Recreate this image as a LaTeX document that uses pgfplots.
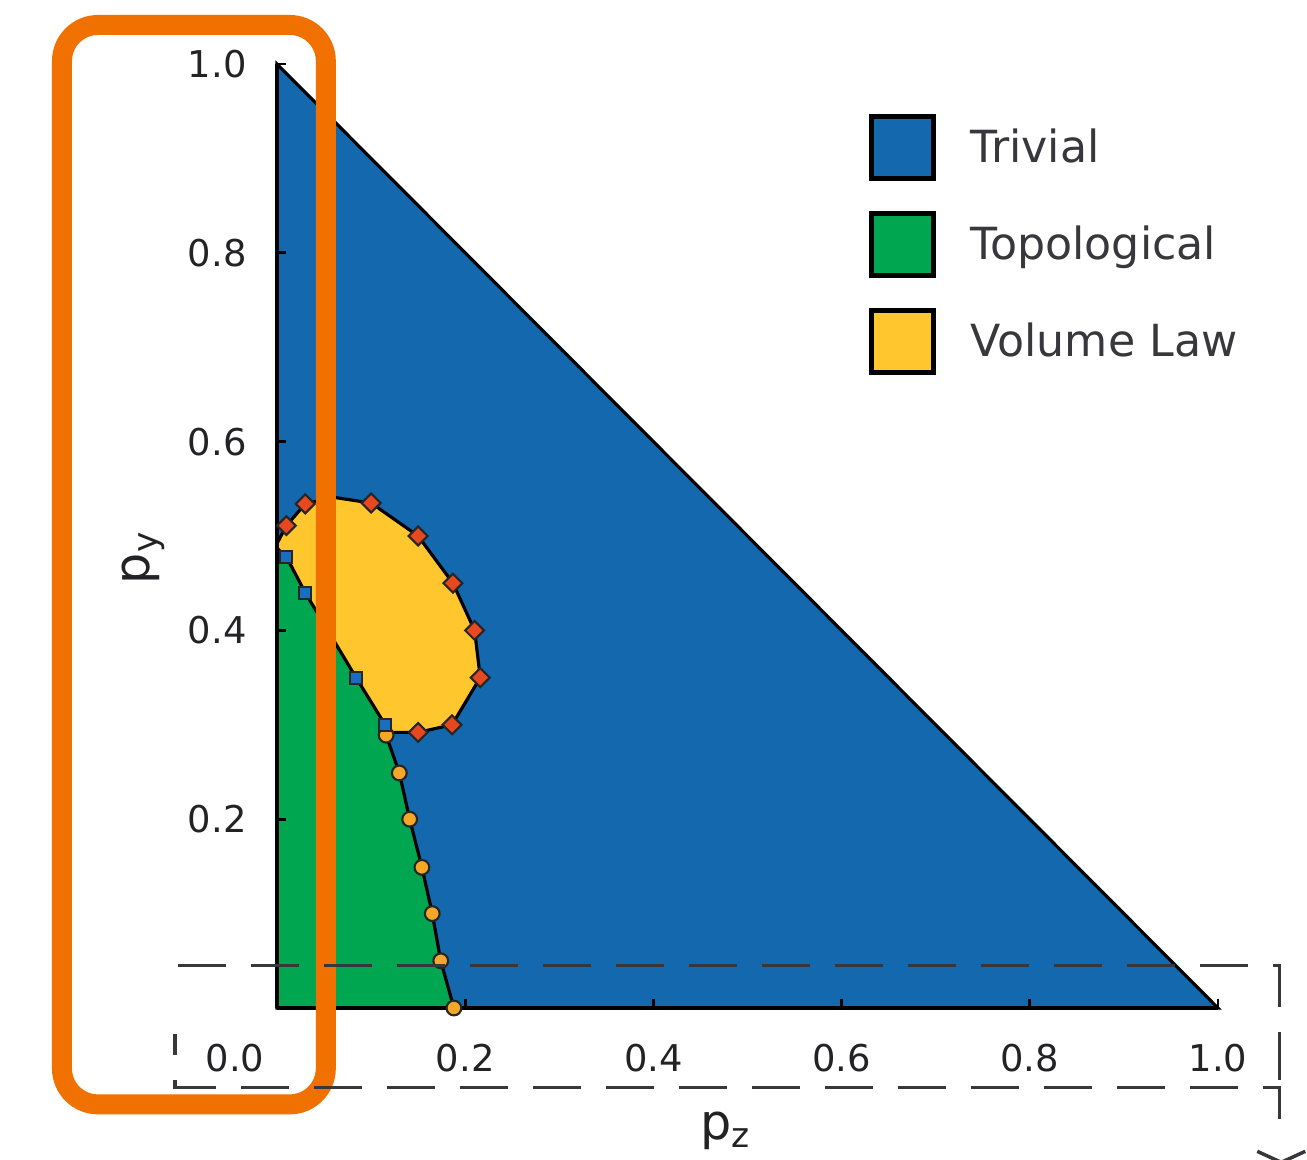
\documentclass[border=0pt]{standalone}
\usepackage{fontspec}
\setmainfont{DejaVu Sans}
\usepackage{pgfplots}
\pgfplotsset{compat=1.18}
\definecolor{tblue}{RGB}{19,104,174}
\definecolor{tgreen}{RGB}{0,166,80}
\definecolor{tyellow}{RGB}{255,198,46}
\definecolor{dred}{RGB}{232,72,32}
\definecolor{corange}{RGB}{245,168,40}
\definecolor{sblue}{RGB}{25,110,190}
\definecolor{annot}{RGB}{240,113,0}
\definecolor{dgray}{RGB}{55,55,60}
\definecolor{tgray}{RGB}{35,35,38}
\begin{document}
\begin{tikzpicture}
\useasboundingbox (0,0) rectangle (13.07,11.59);
\begin{axis}[
  at={(2.77cm,1.51cm)}, anchor=south west,
  scale only axis, width=9.41cm, height=9.44cm,
  xmin=0, xmax=1, ymin=0, ymax=1,
  clip=false,
  axis on top,
  axis lines=left,
  axis line style={-, line width=1.1pt, black},
  tick align=inside,
  major tick length=0.09cm,
  tick style={black, line width=0.8pt},
  xtick={0.2,0.4,0.6,0.8,1.0},
  xticklabels={0.2,0.4,0.6,0.8,1.0},
  extra x ticks={0},
  extra x tick labels={0.0},
  extra x tick style={major tick length=0pt, xticklabel style={xshift=-0.42cm}},
  ytick={0.2,0.4,0.6,0.8,1.0},
  yticklabels={0.2,0.4,0.6,0.8,1.0},
  xticklabel style={font=\fontsize{10.5}{12}\selectfont, text=tgray, yshift=-0.24cm},
  yticklabel style={font=\fontsize{10.5}{12}\selectfont, text=tgray, xshift=-0.18cm},
  xlabel={p\textsubscript{z}},
  ylabel={p\textsubscript{y}},
  xlabel style={at={(axis description cs:0.437,-0.1398)}, anchor=base west, font=\fontsize{14}{16}\selectfont, text=tgray},
  ylabel style={at={(axis description cs:-0.135,0.436)}, anchor=base west, font=\fontsize{14}{16}\selectfont, text=tgray},
  legend style={at={(axis cs:0.628,0.948)}, anchor=north west, draw=none, fill=none, inner sep=0pt,
    font=\fontsize{12.6}{15}\selectfont, text=dgray, row sep=0.30cm, cells={anchor=west},
    /tikz/every odd column/.append style={column sep=0.28cm}},
  legend image code/.code={\draw[#1, line width=1.4pt] (0cm,-0.30cm) rectangle (0.62cm,0.32cm);},
]
\addlegendimage{fill=tblue, draw=black}
\addlegendentry{Trivial}
\addlegendimage{fill=tgreen, draw=black}
\addlegendentry{Topological}
\addlegendimage{fill=tyellow, draw=black}
\addlegendentry{Volume Law}

% Trivial region (whole triangle)
\addplot[forget plot, fill=tblue, draw=black, line width=0.9pt] coordinates {(0,0) (1,0) (0,1)} -- cycle;

% Topological region
\addplot[forget plot, fill=tgreen, draw=none] coordinates {
(0,0) (0.188,0) (0.174,0.05) (0.165,0.10) (0.154,0.149) (0.141,0.20) (0.130,0.249) (0.116,0.289)
(0.115,0.30) (0.084,0.35) (0.03,0.44) (0.01,0.478) (0,0.487)} -- cycle;

% Volume law region
\addplot[forget plot, fill=tyellow, draw=black, line width=0.9pt] coordinates {
(0,0.492) (0.01,0.511) (0.03,0.534) (0.06,0.541) (0.10,0.535) (0.15,0.50) (0.187,0.45)
(0.21,0.40) (0.216,0.35) (0.186,0.30) (0.15,0.292) (0.12,0.292) (0.115,0.30) (0.084,0.35)
(0.03,0.44) (0.01,0.478) (0,0.487)} -- cycle;

% Topological / trivial boundary
\addplot[forget plot, black, line width=0.9pt, mark=*, mark size=2.1pt,
  mark options={fill=corange, draw=black!85, line width=0.6pt}] coordinates {
(0.116,0.289) (0.130,0.249) (0.141,0.20) (0.154,0.149) (0.165,0.10) (0.174,0.05) (0.188,0)};

% Volume law / trivial boundary points
\addplot[forget plot, only marks, mark=square*, mark size=1.9pt,
  mark options={rotate=45, fill=dred, draw=black!85, line width=0.6pt}] coordinates {
(0.01,0.511) (0.03,0.534) (0.10,0.535) (0.15,0.50) (0.187,0.45) (0.21,0.40) (0.216,0.35) (0.186,0.30) (0.15,0.292)};

% Volume law / topological boundary points
\addplot[forget plot, only marks, mark=square*, mark size=1.7pt,
  mark options={fill=sblue, draw=black!85, line width=0.6pt}] coordinates {
(0.01,0.478) (0.03,0.44) (0.084,0.35) (0.115,0.30)};
\end{axis}

\begin{scope}[yshift=11.59cm, x=0.01cm, y=-0.01cm]
  \draw[annot, line width=0.2cm, rounded corners=0.36cm] (62,25) rectangle (326,1105);
  \begin{scope}[dgray, line width=0.035cm, dash pattern=on 0.48cm off 0.25cm]
    \draw (178,966) -- (1280,966) -- (1280,1088);
    \draw[dash phase=0.27cm] (175,1035) -- (175,1088) -- (1280,1088) -- (1280,1137);
  \end{scope}
  \draw[dgray, line width=0.035cm] (1258,1152) -- (1282,1163) -- (1306,1152);
\end{scope}
\end{tikzpicture}
\end{document}
